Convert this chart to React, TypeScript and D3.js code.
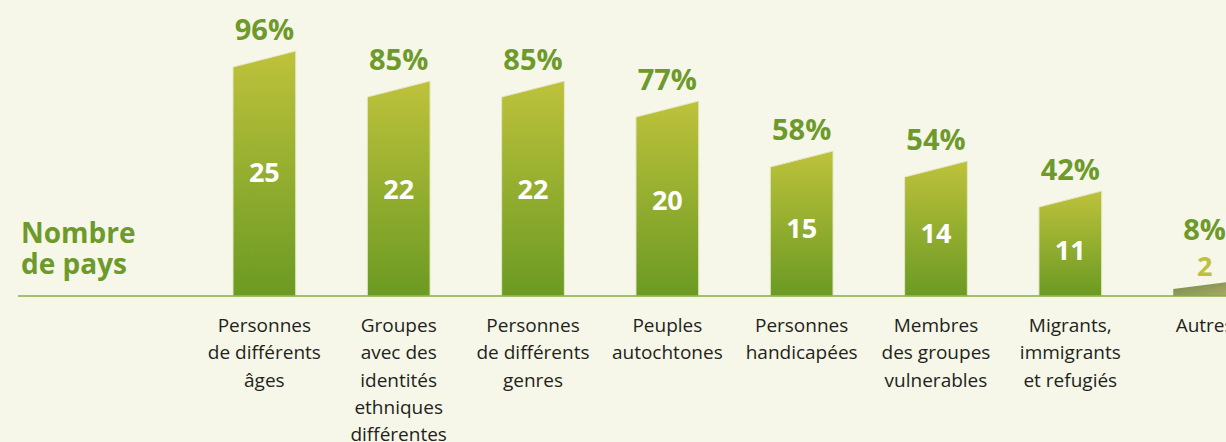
import React from 'react';
import * as d3 from 'd3';

const categories = [
  'Personnes de différents âges',
  'Groupes avec des identités ethniques différentes',
  'Personnes de différents genres',
  'Peuples autochtones',
  'Personnes handicapées',
  'Membres des groupes vulnerables',
  'Migrants, immigrants et refugiés',
  'Autres',
];

const categoryLines = [
  ['Personnes', 'de différents', 'âges'],
  ['Groupes', 'avec des', 'identités', 'ethniques', 'différentes'],
  ['Personnes', 'de différents', 'genres'],
  ['Peuples', 'autochtones'],
  ['Personnes', 'handicapées'],
  ['Membres', 'des groupes', 'vulnerables'],
  ['Migrants,', 'immigrants', 'et refugiés'],
  ['Autres'],
];

const counts = [25, 22, 22, 20, 15, 14, 11, 2];
const percents = [96, 85, 85, 77, 58, 54, 42, 8];

const W = 1226;
const H = 442;
const baseline = 296;
const slant = 16;
const font = '"Open Sans", "Noto Sans", sans-serif';

export default function App() {
  const x = d3.scaleBand<string>()
    .domain(categories)
    .range([233, 1236])
    .paddingInner(0.533)
    .paddingOuter(0);

  // height of the right (taller) edge of each bar
  const y = d3.scaleLinear().domain([0.5, 25]).range([baseline, 51]);

  const bw = x.bandwidth();

  return (
    <svg width={W} height={H} style={{position: 'absolute', left: 0, top: 0, background: '#f6f7e8'}}>
      <defs>
        <linearGradient id='barGrad' x1='0' y1='0' x2='0' y2='1'>
          <stop offset='0%' stopColor='#bec23b' />
          <stop offset='100%' stopColor='#6b9a23' />
        </linearGradient>
        <linearGradient id='lowGrad' x1='0' y1='0' x2='1' y2='1'>
          <stop offset='0%' stopColor='#6f8a4c' />
          <stop offset='100%' stopColor='#b0ac66' />
        </linearGradient>
      </defs>
      <rect width={W} height={H} fill='#f6f7e8' />

      {categories.map((c, i) => {
        const x0 = x(c) as number;
        const x1 = x0 + bw;
        const yRight = y(counts[i]);
        const yLeft = Math.min(yRight + slant, baseline - 7);
        const small = baseline - yLeft < 40;
        const path = d3.path();
        path.moveTo(x0, baseline);
        path.lineTo(x0, yLeft);
        path.lineTo(x1, yRight);
        path.lineTo(x1, baseline);
        path.closePath();
        const cx = x0 + bw / 2;
        const topAvg = (yLeft + yRight) / 2;
        const countY = small ? yRight - 5 : 139 + 0.557 * topAvg + 10;
        const pctY = small ? countY - 36 : yRight - 11;
        return (
          <g key={c}>
            <path d={path.toString()} fill={small ? 'url(#lowGrad)' : 'url(#barGrad)'}
              stroke={small ? 'none' : '#e3e8c4'} strokeWidth={1} />
            <text x={cx} y={pctY} textAnchor='middle' fontFamily={font} fontWeight={700}
              fontSize={29} fill='#6e9a2b'>{percents[i]}%</text>
            <text x={cx} y={countY} textAnchor='middle' fontFamily={font} fontWeight={700}
              fontSize={27} fill={small ? '#bdc13b' : '#ffffff'}>{counts[i]}</text>
            <text textAnchor='middle' fontFamily={font} fontSize={19} fill='#231f20'>
              {categoryLines[i].map((l, j) => (
                <tspan key={j} x={cx} y={332 + j * 27.3}>{l}</tspan>
              ))}
            </text>
          </g>
        );
      })}

      <line x1={18} x2={W} y1={baseline} y2={baseline} stroke='#86ac45' strokeWidth={1.6} />

      <text fontFamily={font} fontWeight={700} fontSize={28} fill='#6e9a2b'>
        <tspan x={21} y={243}>Nombre</tspan>
        <tspan x={21} y={274}>de pays</tspan>
      </text>
    </svg>
  );
}
